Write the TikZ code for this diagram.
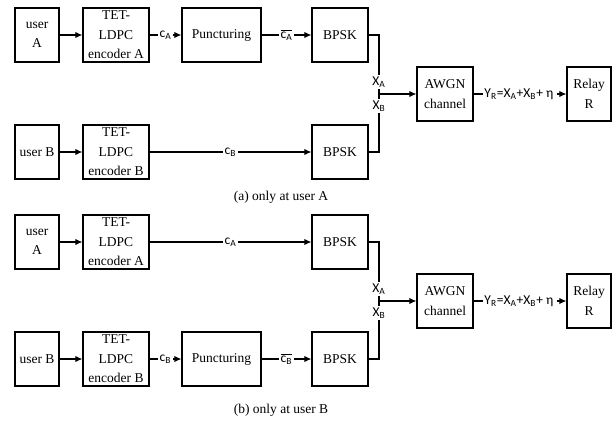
\documentclass[tikz,border=0pt]{standalone}
\usepackage{fontspec}
\setmainfont{Liberation Serif}
\newfontfamily\lblfont{Carlito}
\usepackage{tikz}
\usetikzlibrary{calc}
\usetikzlibrary{arrows.meta}

\begin{document}
\begin{tikzpicture}[x=0.025cm, y=-0.025cm]

		\tikzstyle{block} = [draw, line width=0.8pt, align=center, inner sep=0pt, minimum height=1.35cm, font=\fontsize{9.6}{13.8}\selectfont]
		\tikzstyle{sig}   = [fill=white, inner sep=1pt, font=\lblfont\fontsize{9.6}{10}\selectfont]
		\tikzstyle{wire}  = [line width=0.8pt]
		\tikzstyle{link}  = [wire, -{Latex[length=5pt,width=4.5pt]}]
		\tikzstyle{subcap} = [font=\fontsize{9.6}{11}\selectfont]

		\useasboundingbox (0,0) rectangle (616,421);

		% (a) puncturing on the branch of user A
		\node [block, minimum width=1.1cm](ua) at (37,35) {user\\A};
		\node [block, minimum width=1.65cm](ea) at (116,35) {TET-\\LDPC\\encoder A};
		\node [block, minimum width=1.975cm](pa) at (221.5,35) {Puncturing};
		\node [block, minimum width=1.4cm](ma) at (340,35) {BPSK};
		\node [block, minimum width=1.1cm](ub) at (37,152) {user B};
		\node [block, minimum width=1.65cm](eb) at (116,152) {TET-\\LDPC\\encoder B};
		\node [block, minimum width=1.4cm](mb) at (340,152) {BPSK};
		\node [block, minimum width=1.4cm](ch) at (445,94) {AWGN\\channel};
		\node [block, minimum width=1.1cm](rl) at (589,94) {Relay\\R};
		\coordinate (j) at (379,94);

		\draw [link] (ua) -- (ea);
		\draw [link] (ea) -- node[sig]{c\textsubscript{A}} (pa);
		\draw [link] (pa) -- node[sig]{$\overline{\hbox{c\textsubscript{A}}}$} (ma);
		\draw [link] (ub) -- (eb);
		\draw [link] (eb) -- node[sig]{c\textsubscript{B}} (mb);
		\draw [wire] (ma.east) -| (j);
		\draw [wire] (mb.east) -| (j);
		\draw [link] (j) -- (ch);
		\draw [link] (ch) -- node[sig]{Y\textsubscript{R}=X\textsubscript{A}+X\textsubscript{B}+ η\,} (rl);
		\node [sig](xa) at (379,82) {X\textsubscript{A}};
		\node [sig](xb) at (379,106) {X\textsubscript{B}};
		\node [subcap](capa) at (281,197) {(a) only at user A};

		% (b) puncturing on the branch of user B
		\begin{scope}[shift={(0,207)}]
		\node [block, minimum width=1.1cm](ua2) at (37,35) {user\\A};
		\node [block, minimum width=1.65cm](ea2) at (116,35) {TET-\\LDPC\\encoder A};
		\node [block, minimum width=1.4cm](ma2) at (340,35) {BPSK};
		\node [block, minimum width=1.1cm](ub2) at (37,152) {user B};
		\node [block, minimum width=1.65cm](eb2) at (116,152) {TET-\\LDPC\\encoder B};
		\node [block, minimum width=1.975cm](pb2) at (221.5,152) {Puncturing};
		\node [block, minimum width=1.4cm](mb2) at (340,152) {BPSK};
		\node [block, minimum width=1.4cm](ch2) at (445,94) {AWGN\\channel};
		\node [block, minimum width=1.1cm](rl2) at (589,94) {Relay\\R};
		\coordinate (j2) at (379,94);

		\draw [link] (ua2) -- (ea2);
		\draw [link] (ea2) -- node[sig]{c\textsubscript{A}} (ma2);
		\draw [link] (ub2) -- (eb2);
		\draw [link] (eb2) -- node[sig]{c\textsubscript{B}} (pb2);
		\draw [link] (pb2) -- node[sig]{$\overline{\hbox{c\textsubscript{B}}}$} (mb2);
		\draw [wire] (ma2.east) -| (j2);
		\draw [wire] (mb2.east) -| (j2);
		\draw [link] (j2) -- (ch2);
		\draw [link] (ch2) -- node[sig]{Y\textsubscript{R}=X\textsubscript{A}+X\textsubscript{B}+ η\,} (rl2);
		\node [sig](xa2) at (379,82) {X\textsubscript{A}};
		\node [sig](xb2) at (379,106) {X\textsubscript{B}};
		\node [subcap](capb) at (281,203) {(b) only at user B};
		\end{scope}

	\end{tikzpicture}
\end{document}
